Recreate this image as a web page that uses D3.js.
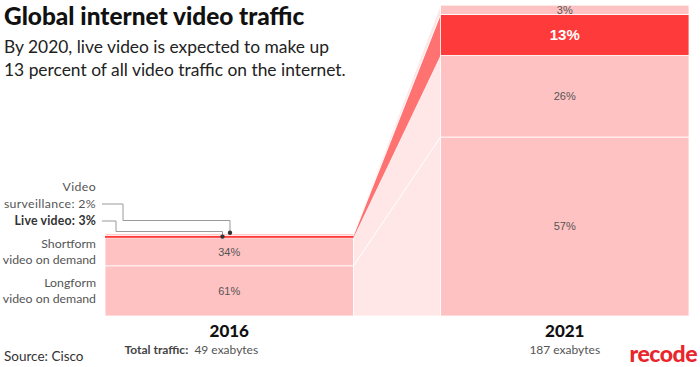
<!DOCTYPE html>
<html><head><meta charset="utf-8">
<script src="https://cdn.jsdelivr.net/npm/d3@7"></script>
<style>
body{margin:0;background:#fff;}
svg{display:block;}
</style></head>
<body><svg id="chart" width="700" height="367"></svg>
<script>
// ---- data ----
const years = ["2016", "2021"];
const totals = [49, 187];                 // exabytes
const categories = ["Longform", "Shortform", "Live", "Surveillance"];
const share2016 = [61, 34, 3, 2];
const share2021 = [57, 26, 13, 3];
const leftLabels = [
  {key: "Longform", lines: ["Longform", "video on demand"]},
  {key: "Shortform", lines: ["Shortform", "video on demand"]}
];
const calloutLabels = [
  {key: "Surveillance", lines: ["Video", "surveillance: 2%"], bold: false},
  {key: "Live", lines: ["Live video: 3%"], bold: true}
];

const svg = d3.select("#chart");

const x = d3.scaleBand().domain(years).range([105, 689]).paddingInner(0.2593).paddingOuter(0);
const y = d3.scaleLinear().domain([0, 187]).range([316, 2]);

const shares = {"2016": share2016, "2021": share2021};
const rows = years.map((yr, i) => {
  const r = {year: yr};
  categories.forEach((c, j) => r[c] = shares[yr][j] / 100 * totals[i]);
  return r;
});
const stacked = d3.stack().keys(categories)(rows);

const pink = "#ffc2c2", light = "#ffe7e7", red = "#ff3a3a", redBand = "#ff7272";

// connectors
const x0 = x("2016") + x.bandwidth(), x1 = x("2021");
const gConn = svg.append("g");
stacked.forEach(layer => {
  const a = layer[0], b = layer[1];
  gConn.append("path")
    .attr("d", `M${x0},${y(a[0])}L${x0},${y(a[1])}L${x1},${y(b[1])}L${x1},${y(b[0])}Z`)
    .attr("fill", layer.key === "Live" ? redBand : light)
    .attr("stroke", layer.key === "Live" ? "none" : "#fff")
    .attr("stroke-width", 0.8);
});

// bars
const gBars = svg.append("g");
stacked.forEach(layer => {
  layer.forEach(d => {
    gBars.append("rect")
      .attr("x", x(d.data.year))
      .attr("width", x.bandwidth())
      .attr("y", y(d[1]))
      .attr("height", y(d[0]) - y(d[1]))
      .attr("fill", layer.key === "Live" ? red : pink)
      .attr("stroke", layer.key === "Live" && d.data.year === "2016" ? "none" : "#fff")
      .attr("stroke-width", 0.8);
  });
});

// segment labels
stacked.forEach((layer, li) => {
  layer.forEach(d => {
    const h = y(d[0]) - y(d[1]);
    if (h < 8) return;
    const yr = d.data.year;
    const isLive = layer.key === "Live";
    svg.append("text")
      .attr("x", x(yr) + x.bandwidth() / 2)
      .attr("y", (y(d[0]) + y(d[1])) / 2)
      .attr("dy", "0.35em")
      .attr("text-anchor", "middle")
      .attr("font-family", "Liberation Sans, Arial, sans-serif")
      .attr("font-size", isLive ? 15 : 11)
      .attr("font-weight", isLive ? "bold" : "normal")
      .attr("fill", isLive ? "#fff" : "#555")
      .text(shares[yr][li] + "%");
  });
});

// left labels
const labelFont = "Lato, 'Open Sans', sans-serif";
leftLabels.forEach(l => {
  const layer = stacked.find(s => s.key === l.key)[0];
  const mid = (y(layer[0]) + y(layer[1])) / 2;
  l.lines.forEach((t, k) => {
    svg.append("text").attr("x", 96).attr("y", mid + (k - (l.lines.length - 1) / 2) * 16.5)
      .attr("dy", "0.35em").attr("text-anchor", "end")
      .attr("font-family", labelFont).attr("font-size", 12.3).attr("fill", "#555").text(t);
  });
});

// callouts
const surv = stacked.find(s => s.key === "Surveillance")[0];
const live = stacked.find(s => s.key === "Live")[0];
const callouts = [
  {ly: 204, lines: [186.5, 204], texts: calloutLabels[0].lines, bold: false, bx: 123, hy: 220.5, dx: 230, dotY: y(surv[1]) - 1},
  {ly: 221, lines: [221], texts: calloutLabels[1].lines, bold: true, bx: 116, hy: 231.5, dx: 222.5, dotY: (y(live[0]) + y(live[1])) / 2}
];
callouts.forEach(c => {
  c.texts.forEach((t, k) => {
    svg.append("text").attr("x", 96).attr("y", c.lines[k]).attr("dy", "0.35em")
      .attr("text-anchor", "end").attr("font-family", labelFont).attr("font-size", 12.3)
      .attr("font-weight", c.bold ? "bold" : "normal")
      .attr("letter-spacing", c.bold ? 0.2 : 0.35)
      .attr("fill", c.bold ? "#333" : "#555").text(t);
  });
  svg.append("path")
    .attr("d", `M102,${c.ly}H${c.bx}V${c.hy}H${c.dx}V${c.dotY}`)
    .attr("fill", "none").attr("stroke", "#999").attr("stroke-width", 1);
  svg.append("circle").attr("cx", c.dx).attr("cy", c.dotY).attr("r", 2.2).attr("fill", "#333");
});

// year labels
years.forEach((yr, i) => {
  const cx = x(yr) + x.bandwidth() / 2;
  svg.append("text").attr("x", cx).attr("y", 337).attr("text-anchor", "middle")
    .attr("font-family", labelFont).attr("font-size", 17).attr("font-weight", 900)
    .attr("fill", "#111").text(yr);
  if (i === 0) {
    svg.append("text").attr("x", cx - 41).attr("y", 354).attr("text-anchor", "end")
      .attr("font-family", labelFont).attr("font-size", 12).attr("font-weight", "bold")
      .attr("fill", "#444").text("Total traffic:");
    svg.append("text").attr("x", cx - 3).attr("y", 354).attr("text-anchor", "middle")
      .attr("font-family", labelFont).attr("font-size", 12)
      .attr("fill", "#555").text(totals[i] + " exabytes");
  } else {
    svg.append("text").attr("x", cx).attr("y", 354).attr("text-anchor", "middle")
      .attr("font-family", labelFont).attr("font-size", 12)
      .attr("fill", "#555").text(totals[i] + " exabytes");
  }
});

// titles
svg.append("text").attr("x", 4).attr("y", 25)
  .attr("font-family", labelFont).attr("font-size", 24.4).attr("font-weight", 900)
  .attr("fill", "#111").text("Global internet video traffic");
svg.append("text").attr("x", 4).attr("y", 53)
  .attr("font-family", labelFont).attr("font-size", 17.4).attr("fill", "#222")
  .text("By 2020, live video is expected to make up");
svg.append("text").attr("x", 4).attr("y", 76)
  .attr("font-family", labelFont).attr("font-size", 17.4).attr("fill", "#222")
  .text("13 percent of all video traffic on the internet.");
svg.append("text").attr("x", 4).attr("y", 361)
  .attr("font-family", labelFont).attr("font-size", 13.5).attr("fill", "#333")
  .text("Source: Cisco");
svg.append("text").attr("x", 697).attr("y", 362).attr("text-anchor", "end")
  .attr("font-family", labelFont).attr("font-size", 23).attr("font-weight", 900)
  .attr("fill", "#e8262b").attr("letter-spacing", -0.5).text("recode");
</script></body></html>
